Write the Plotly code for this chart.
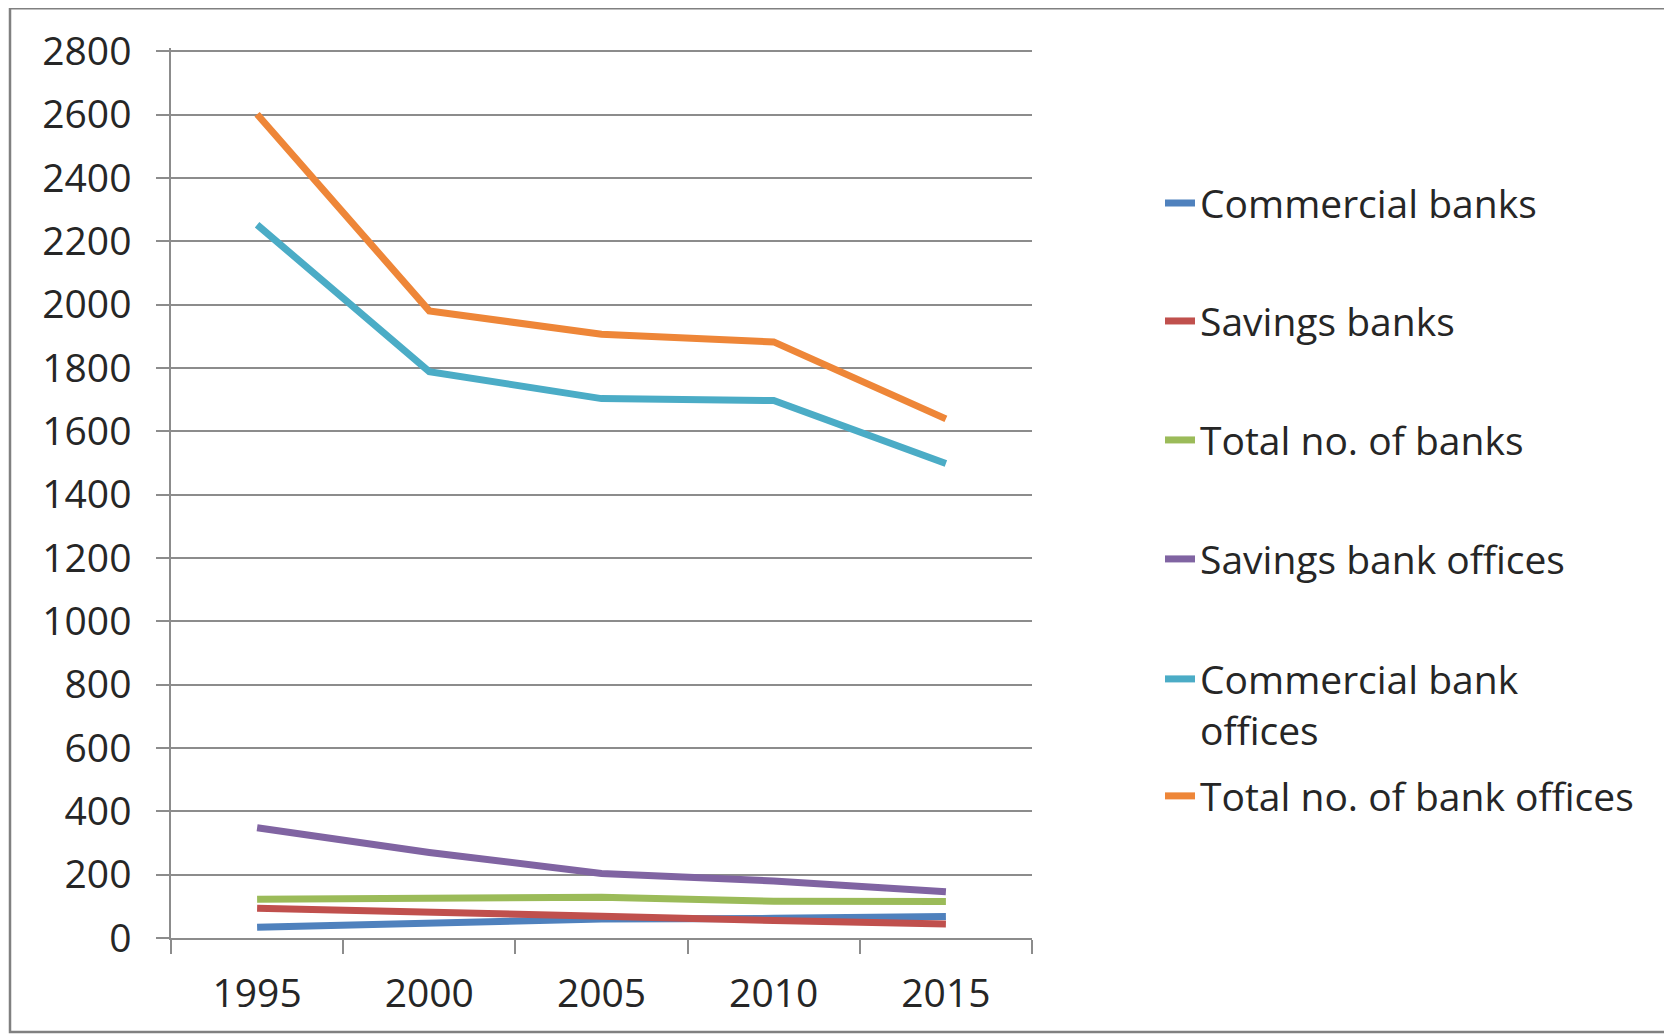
import plotly.graph_objects as go

years = ["1995", "2000", "2005", "2010", "2015"]
series_names = [
    "Commercial banks",
    "Savings banks",
    "Total no. of banks",
    "Savings bank offices",
    "Commercial bank<br>offices",
    "Total no. of bank offices",
]
commercial_banks = [34, 49, 60, 62, 68]
savings_banks = [94, 79, 69, 55, 44]
total_banks = [122, 127, 129, 116, 115]
savings_bank_offices = [348, 270, 204, 180, 146]
commercial_bank_offices = [2252, 1788, 1703, 1697, 1498]
total_bank_offices = [2601, 1980, 1906, 1882, 1639]
series_values = [commercial_banks, savings_banks, total_banks,
                 savings_bank_offices, commercial_bank_offices, total_bank_offices]
colors = ["#4F81BD", "#C0504D", "#9BBB59", "#8064A2", "#4BACC6", "#EE8638"]
y_ticks = list(range(0, 2801, 200))

OFF = 8  # page body margin
W, H = 1672, 1034
YMAX = 2810
# plot area in page pixels (2800 gridline at y=51, 0 at y=938)
PX0, PX1, PY1 = 171, 1032, 938
PY0 = 51 - (PY1 - 51) * (YMAX - 2800) / 2800
L, T = PX0 - OFF, PY0 - OFF
pw, ph = PX1 - PX0, PY1 - PY0
R, B = W - L - pw, H - T - ph

def px_to_paper_x(px):
    return (px - PX0) / pw

def px_to_paper_y(py):
    return (PY1 - py) / ph

FONT = "Open Sans"
FS = 39
TXT = "#262626"
GRID = "#8c8c8c"

leg_y = [203, 321, 440, 559, 647, 796]
leg_anchor = ["middle", "middle", "middle", "middle", "top", "middle"]
legend_ids = ["legend", "legend2", "legend3", "legend4", "legend5", "legend6"]

fig = go.Figure()
for name, vals, col, lid in zip(series_names, series_values, colors, legend_ids):
    fig.add_trace(go.Scatter(x=years, y=vals, mode="lines", name=name,
                             line=dict(color=col, width=7), legend=lid))

layout_legends = {}
for lid, py, anc in zip(legend_ids, leg_y, leg_anchor):
    layout_legends[lid] = dict(
        x=px_to_paper_x(1160), xanchor="left",
        y=px_to_paper_y(py), yanchor=anc,
        font=dict(family=FONT, size=FS, color=TXT),
        bgcolor="rgba(0,0,0,0)", borderwidth=0, valign="top",
    )

fig.update_layout(
    width=W, height=H,
    margin=dict(l=L, r=R, t=T, b=B, autoexpand=False),
    paper_bgcolor="white", plot_bgcolor="white",
    font=dict(family=FONT, size=FS, color=TXT),
    showlegend=True,
    xaxis=dict(type="category", range=[-0.5, 4.5], tickson="boundaries",
               ticks="outside", ticklen=14, tickwidth=1.5, tickcolor=GRID,
               showline=True, linecolor=GRID, linewidth=1.5, showgrid=False,
               tickfont=dict(family=FONT, size=FS, color=TXT), ticklabelstandoff=20),
    yaxis=dict(range=[0, YMAX], tickvals=y_ticks, showgrid=True,
               gridcolor=GRID, gridwidth=1.5,
               ticks="outside", ticklen=13, tickwidth=1.5, tickcolor=GRID,
               showline=True, linecolor=GRID, linewidth=1.5, zeroline=False,
               tickfont=dict(family=FONT, size=FS, color=TXT), ticklabelstandoff=17),
    shapes=[dict(type="rect", xref="paper", yref="paper",
                 x0=px_to_paper_x(10), x1=px_to_paper_x(1700),
                 y0=px_to_paper_y(1032), y1=px_to_paper_y(8),
                 line=dict(color="#808080", width=2.5), layer="below")],
    **layout_legends,
)

fig.write_html("out.html")
